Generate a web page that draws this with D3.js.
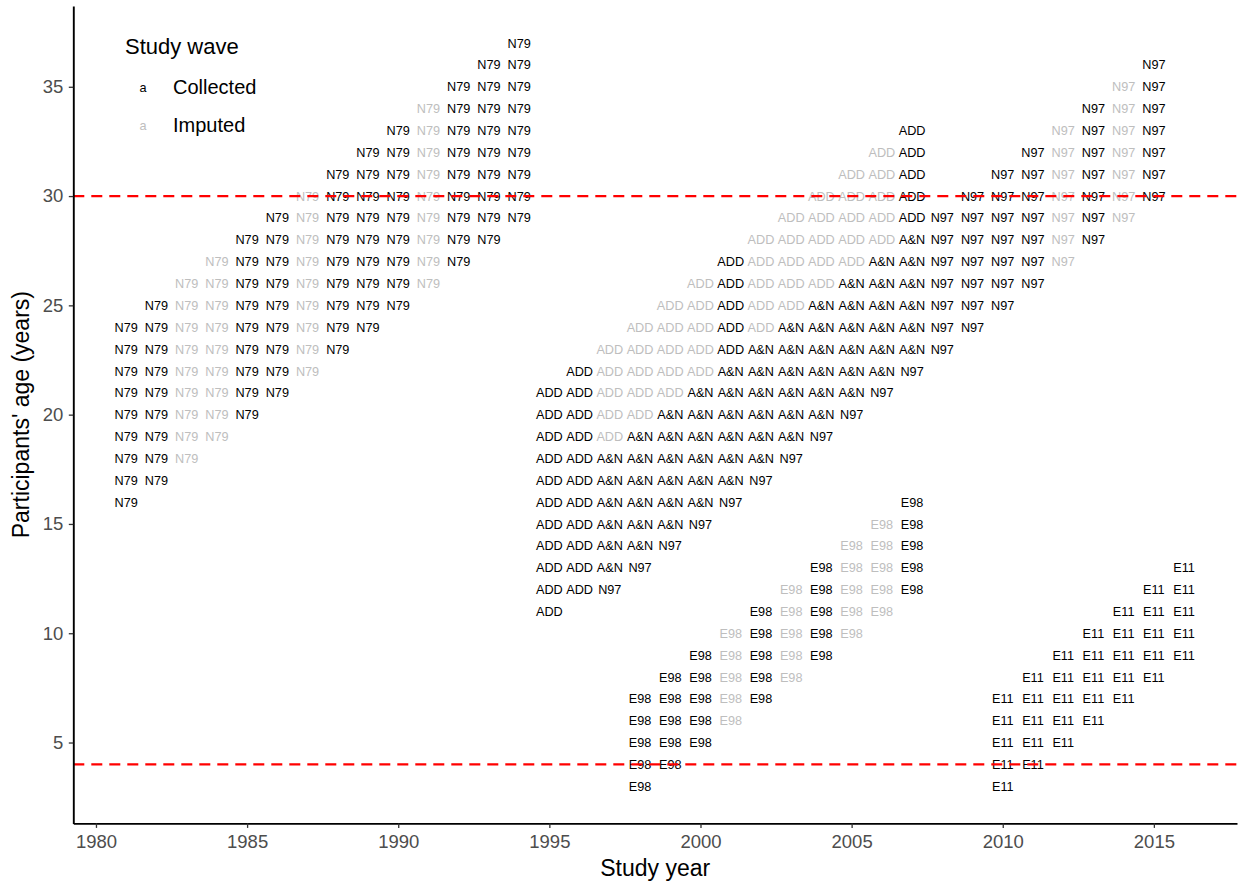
<!DOCTYPE html>
<html>
<head>
<meta charset="utf-8">
<script src="https://cdn.jsdelivr.net/npm/d3@7"></script>
<style>
  body { margin: 0; background: #fff; }
  svg text { font-family: "Liberation Sans", Arial, Helvetica, sans-serif; }
</style>
</head>
<body>
<svg id="chart" width="1238" height="882"></svg>
<script>
// Study waves: for each cohort, the study years, the youngest and oldest
// participant age covered that year, and whether the wave was collected (C)
// or imputed (I).
const n79Years  = [1981, 1982, 1983, 1984, 1985, 1986, 1987, 1988, 1989, 1990, 1991, 1992, 1993, 1994];
const n79Min    = [16, 17, 18, 19, 20, 21, 22, 23, 24, 25, 26, 27, 28, 29];
const n79Max    = [24, 25, 26, 27, 28, 29, 30, 31, 32, 33, 34, 35, 36, 37];
const n79Status = ["C", "C", "I", "I", "C", "C", "I", "C", "C", "C", "I", "C", "C", "C"];

const addYears  = [1995, 1996, 1997, 1998, 1999, 2000, 2001, 2002, 2003, 2004, 2005, 2006, 2007];
const addMin    = [11, 12, 19, 20, 21, 22, 23, 24, 25, 26, 27, 28, 29];
const addMax    = [21, 22, 23, 24, 25, 26, 27, 28, 29, 30, 31, 32, 33];
const addStatus = ["C", "C", "I", "I", "I", "I", "C", "I", "I", "I", "I", "I", "C"];

const anYears   = [1997, 1998, 1999, 2000, 2001, 2002, 2003, 2004, 2005, 2006, 2007];
const anMin     = [13, 14, 15, 16, 17, 18, 19, 20, 21, 22, 23];
const anMax     = [18, 19, 20, 21, 22, 23, 24, 25, 26, 27, 28];
const anStatus  = ["C", "C", "C", "C", "C", "C", "C", "C", "C", "C", "C"];

const n97Years  = [1997, 1998, 1999, 2000, 2001, 2002, 2003, 2004, 2005, 2006, 2007, 2008, 2009, 2010, 2011, 2012, 2013, 2014, 2015];
const n97Min    = [12, 13, 14, 15, 16, 17, 18, 19, 20, 21, 22, 23, 24, 25, 26, 27, 28, 29, 30];
const n97Max    = [12, 13, 14, 15, 16, 17, 18, 19, 20, 21, 22, 29, 30, 31, 32, 33, 34, 35, 36];
const n97Status = ["C", "C", "C", "C", "C", "C", "C", "C", "C", "C", "C", "C", "C", "C", "C", "I", "C", "I", "C"];

const e98Years  = [1998, 1999, 2000, 2001, 2002, 2003, 2004, 2005, 2006, 2007];
const e98Min    = [3, 4, 5, 6, 7, 8, 9, 10, 11, 12];
const e98Max    = [7, 8, 9, 10, 11, 12, 13, 14, 15, 16];
const e98Status = ["C", "C", "C", "I", "C", "I", "C", "I", "I", "C"];

const e11Years  = [2010, 2011, 2012, 2013, 2014, 2015, 2016];
const e11Min    = [3, 4, 5, 6, 7, 8, 9];
const e11Max    = [7, 8, 9, 10, 11, 12, 13];
const e11Status = ["C", "C", "C", "C", "C", "C", "C"];

const xTicks = [1980, 1985, 1990, 1995, 2000, 2005, 2010, 2015];
const yTicks = [5, 10, 15, 20, 25, 30, 35];
const cutoffAges = [30, 4];

const legendLabels = ["Collected", "Imputed"];
const statusColor = { C: "#000000", I: "#bebebe" };

// Expand each wave-year into one cell per age
const cohorts = [
  { label: "N79", years: n79Years, min: n79Min, max: n79Max, status: n79Status },
  { label: "ADD", years: addYears, min: addMin, max: addMax, status: addStatus },
  { label: "A&N", years: anYears,  min: anMin,  max: anMax,  status: anStatus },
  { label: "N97", years: n97Years, min: n97Min, max: n97Max, status: n97Status },
  { label: "E98", years: e98Years, min: e98Min, max: e98Max, status: e98Status },
  { label: "E11", years: e11Years, min: e11Min, max: e11Max, status: e11Status }
];
const cells = [];
cohorts.forEach(c => {
  c.years.forEach((yr, i) => {
    for (let age = c.min[i]; age <= c.max[i]; age++) {
      cells.push({ year: yr, age: age, label: c.label, status: c.status[i] });
    }
  });
});

const svg = d3.select("#chart");
const plotLeft = 73.3, plotRight = 1237, plotTop = 5.9, plotBottom = 823.4;

const x = d3.scaleLinear().domain([1979.25, 2017.75]).range([plotLeft, plotRight]);
const y = d3.scaleLinear().domain([1.3, 38.7]).range([plotBottom, plotTop]);

// Cell labels
svg.append("g")
  .selectAll("text")
  .data(cells)
  .join("text")
  .attr("x", d => x(d.year))
  .attr("y", d => y(d.age))
  .attr("dy", "0.36em")
  .attr("text-anchor", "middle")
  .attr("font-size", 12.7)
  .attr("fill", d => statusColor[d.status])
  .text(d => d.label);

// Age cut-offs
svg.append("g")
  .selectAll("line")
  .data(cutoffAges)
  .join("line")
  .attr("x1", plotLeft).attr("x2", plotRight)
  .attr("y1", d => y(d)).attr("y2", d => y(d))
  .attr("stroke", "#ff0000")
  .attr("stroke-width", 2.3)
  .attr("stroke-dasharray", "11,7");

// Axes
const xAxis = svg.append("g")
  .attr("transform", `translate(0,${plotBottom})`)
  .call(d3.axisBottom(x).tickValues(xTicks).tickFormat(d3.format("d"))
    .tickSize(4.5).tickSizeOuter(0).tickPadding(7));
const yAxis = svg.append("g")
  .attr("transform", `translate(${plotLeft},0)`)
  .call(d3.axisLeft(y).tickValues(yTicks).tickSize(4.5).tickSizeOuter(0).tickPadding(5.5));

[xAxis, yAxis].forEach(g => {
  g.select(".domain").attr("stroke", "#000").attr("stroke-width", 1.9);
  g.selectAll(".tick line").attr("stroke", "#333").attr("stroke-width", 1.3);
  g.selectAll(".tick text")
    .attr("fill", "#4d4d4d")
    .attr("font-size", 18.5)
    .style("font-family", '"Liberation Sans", Arial, sans-serif');
});

// Axis titles
svg.append("text")
  .attr("x", (plotLeft + plotRight) / 2)
  .attr("y", 876)
  .attr("text-anchor", "middle")
  .attr("font-size", 23)
  .attr("fill", "#000")
  .text("Study year");

svg.append("text")
  .attr("transform", `translate(29,${(plotTop + plotBottom) / 2}) rotate(-90)`)
  .attr("text-anchor", "middle")
  .attr("font-size", 23)
  .attr("fill", "#000")
  .text("Participants' age (years)");

// Legend
const legend = svg.append("g");
legend.append("text")
  .attr("x", 125).attr("y", 54)
  .attr("font-size", 22)
  .attr("fill", "#000")
  .text("Study wave");

const items = legend.selectAll("g.item")
  .data(legendLabels)
  .join("g")
  .attr("class", "item")
  .attr("transform", (d, i) => `translate(0,${87 + i * 38})`);
items.append("text")
  .attr("x", 143).attr("dy", "0.36em")
  .attr("text-anchor", "middle")
  .attr("font-size", 12.7)
  .attr("fill", (d, i) => i === 0 ? statusColor.C : statusColor.I)
  .text("a");
items.append("text")
  .attr("x", 173).attr("dy", "0.36em")
  .attr("font-size", 20)
  .attr("fill", "#000")
  .text(d => d);
</script>
</body>
</html>
